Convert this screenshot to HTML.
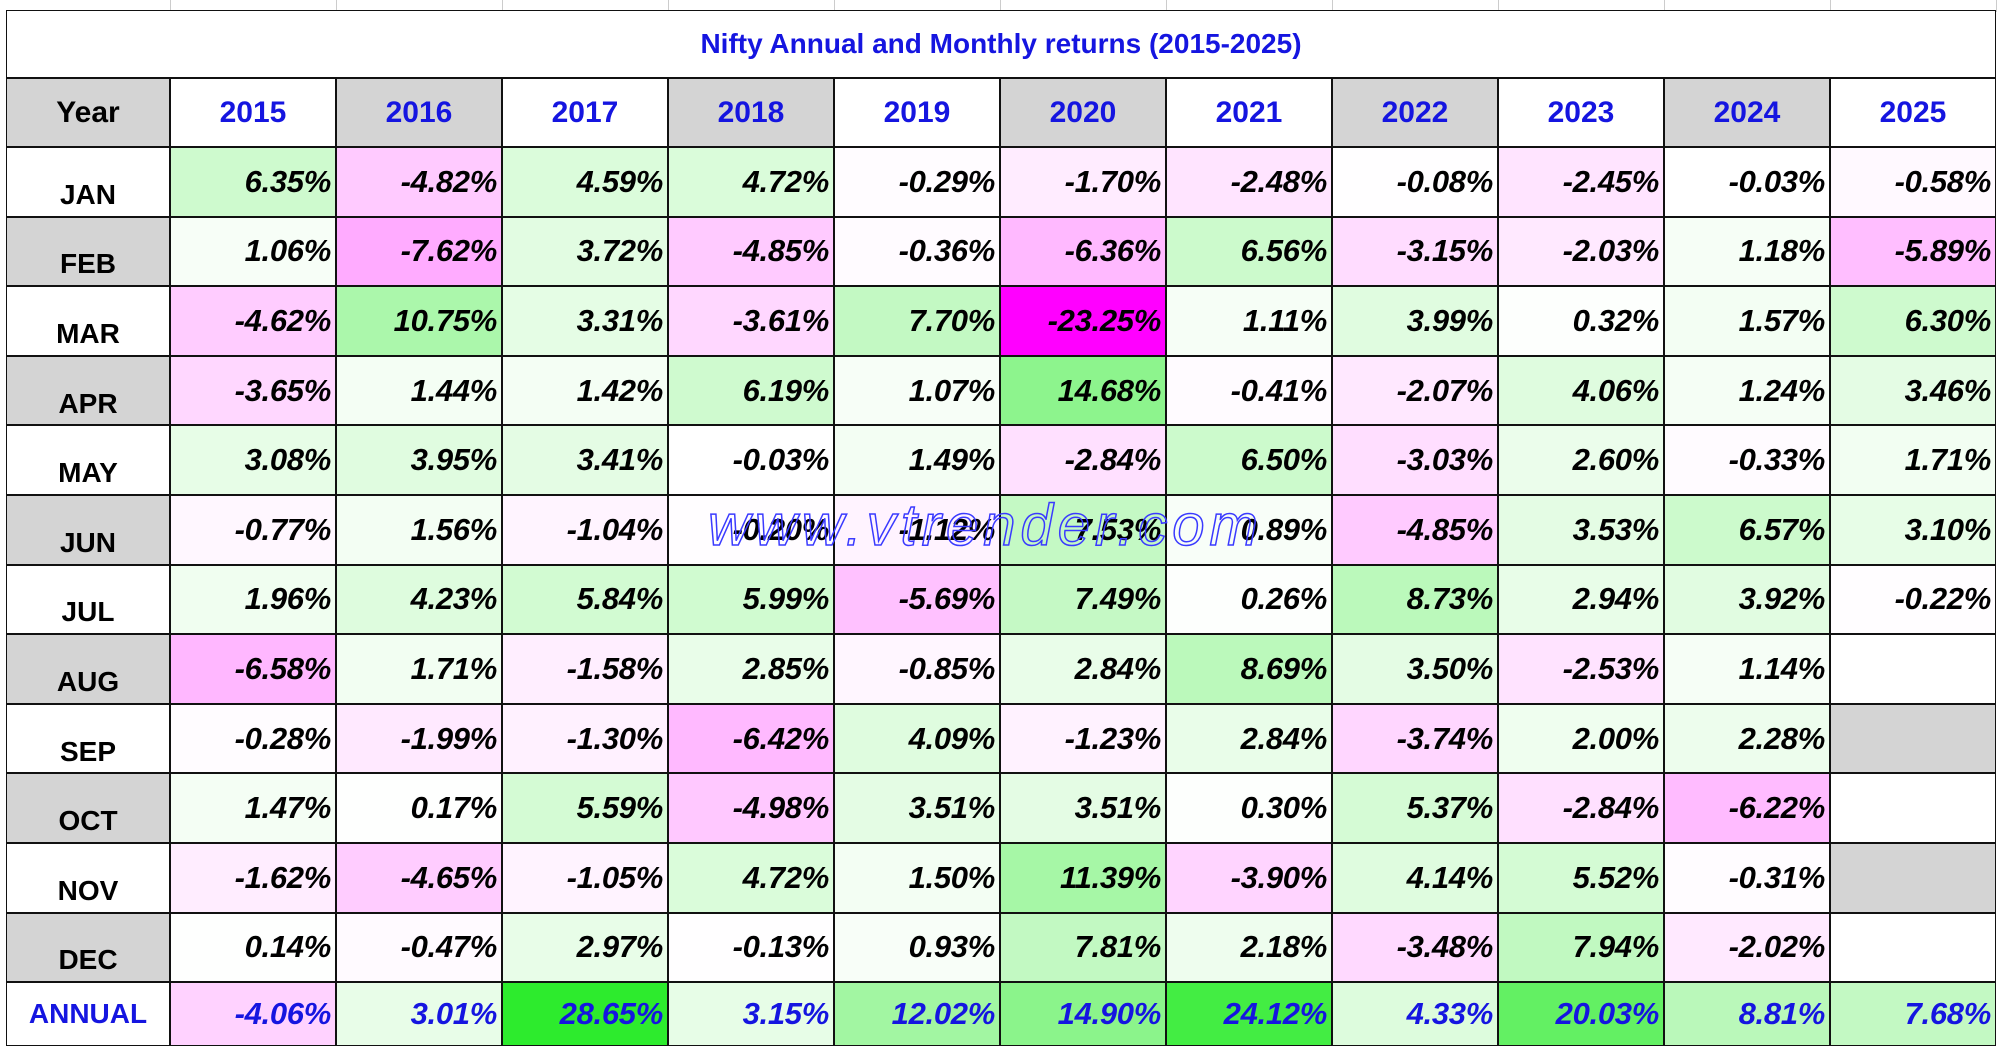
<!DOCTYPE html>
<html><head><meta charset="utf-8">
<style>
body{margin:0;width:2000px;height:1050px;background:#fff;overflow:hidden;position:relative;font-family:"Liberation Sans",Arial,sans-serif}
.c{position:absolute;box-sizing:border-box;border:1.5px solid #111;display:flex;align-items:center;font-weight:bold}
.v{justify-content:flex-end;padding-right:4px;font-style:italic;font-size:31px;color:#000;letter-spacing:-0.3px}
.h{justify-content:center;font-size:30px;color:#1515e0}
.m{justify-content:center;font-size:28px;color:#000;padding-top:26px}
.g{position:absolute;top:0;height:12px;width:1px;background:#ccc}
</style></head><body>
<div id="tbl"></div>
<div style="position:absolute;left:708px;top:492px;font-size:58px;font-style:italic;color:rgba(0,0,0,0);-webkit-text-stroke:1.5px #3a3aff;letter-spacing:5px;z-index:5">www.vtrender.com</div>
<script>
const years=["2015","2016","2017","2018","2019","2020","2021","2022","2023","2024","2025"];
const months=["JAN","FEB","MAR","APR","MAY","JUN","JUL","AUG","SEP","OCT","NOV","DEC"];
const r2015=[6.35,1.06,-4.62,-3.65,3.08,-0.77,1.96,-6.58,-0.28,1.47,-1.62,0.14];
const r2016=[-4.82,-7.62,10.75,1.44,3.95,1.56,4.23,1.71,-1.99,0.17,-4.65,-0.47];
const r2017=[4.59,3.72,3.31,1.42,3.41,-1.04,5.84,-1.58,-1.30,5.59,-1.05,2.97];
const r2018=[4.72,-4.85,-3.61,6.19,-0.03,-0.20,5.99,2.85,-6.42,-4.98,4.72,-0.13];
const r2019=[-0.29,-0.36,7.70,1.07,1.49,-1.12,-5.69,-0.85,4.09,3.51,1.50,0.93];
const r2020=[-1.70,-6.36,-23.25,14.68,-2.84,7.53,7.49,2.84,-1.23,3.51,11.39,7.81];
const r2021=[-2.48,6.56,1.11,-0.41,6.50,0.89,0.26,8.69,2.84,0.30,-3.90,2.18];
const r2022=[-0.08,-3.15,3.99,-2.07,-3.03,-4.85,8.73,3.50,-3.74,5.37,4.14,-3.48];
const r2023=[-2.45,-2.03,0.32,4.06,2.60,3.53,2.94,-2.53,2.00,-2.84,5.52,7.94];
const r2024=[-0.03,1.18,1.57,1.24,-0.33,6.57,3.92,1.14,2.28,-6.22,-0.31,-2.02];
const r2025=[-0.58,-5.89,6.30,3.46,1.71,3.10,-0.22,null,null,null,null,null];
const annual=[-4.06,3.01,28.65,3.15,12.02,14.90,24.12,4.33,20.03,8.81,7.68];
const cols=[r2015,r2016,r2017,r2018,r2019,r2020,r2021,r2022,r2023,r2024,r2025];
const X0=6,W0=164,CW=166,Y0=10,TH=68,HH=69,RH=69.6;
const body=document.body;
function col(v){
  if(v>=0){const t=Math.min(v/27,1);return `rgb(${Math.round(255-t*210)},${Math.round(255-t*20)},${Math.round(255-t*210)})`;}
  const t=Math.min(-v/23.25,1);return `rgb(255,${Math.round(255-t*255)},255)`;
}
function cell(x,y,w,h,cls,txt,bg,color){
  const d=document.createElement('div');d.className='c '+cls;
  d.style.left=x+'px';d.style.top=y+'px';d.style.width=w+'px';d.style.height=h+'px';
  d.style.background=bg;if(color)d.style.color=color;d.textContent=txt;body.appendChild(d);return d;
}
for(let i=0;i<=11;i++){const g=document.createElement('div');g.className='g';g.style.left=(X0+W0+i*CW)+'px';


body.appendChild(g);}
const t=cell(X0,Y0,W0+11*CW,TH,'h','Nifty Annual and Monthly returns (2015-2025)','#fff');
t.style.fontSize='28px';


const yh=cell(X0,Y0+TH,W0,HH,'h','Year','#d4d4d4','#000');


years.forEach((y,i)=>{
  const d=cell(X0+W0+i*CW,Y0+TH,CW,HH,'h',y,i%2?'#d4d4d4':'#fff');
  
  
});
const top0=Y0+TH+HH;
months.forEach((m,r)=>{
  const y=top0+r*RH;
  const d=cell(X0,y,W0,RH,'m',m,r%2?'#d4d4d4':'#fff');
  
  
  cols.forEach((c,i)=>{
    const v=c[r];let bg,txt='';
    if(v===null){bg=(m==='SEP'||m==='NOV')?'#d4d4d4':'#fff';}
    else{bg=col(v);txt=v.toFixed(2)+'%';}
    const e=cell(X0+W0+i*CW,y,CW,RH,'v',txt,bg);
    
    
  });
});
const ya=top0+12*RH;
const al=cell(X0,ya,W0,1046-ya,'h','ANNUAL','#fff');
al.style.fontSize='28px';


annual.forEach((v,i)=>{
  const e=cell(X0+W0+i*CW,ya,CW,1046-ya,'v',v.toFixed(2)+'%',col(v),'#1515e0');
  
  
});
</script>
</body></html>
